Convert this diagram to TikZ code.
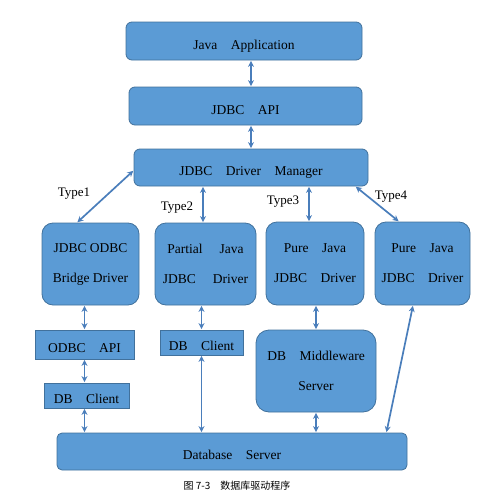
\documentclass[tikz,border=0pt]{standalone}
\usepackage{fontspec}
\setmainfont{Liberation Serif}
\newfontfamily\cjkfont{Noto Sans CJK SC}
\usepackage{tikz}
\usetikzlibrary{arrows.meta,positioning}
\definecolor{boxfill}{HTML}{5B9BD5}
\definecolor{boxline}{HTML}{41719C}
\definecolor{arrowblue}{HTML}{4A7EBB}
\tikzset{
    layer/.style={draw=boxline, fill=boxfill, line width=0.8pt, rounded corners=6pt,
        inner sep=0pt, text height=16pt, text depth=0pt,
        font=\fontsize{13.5}{16}\selectfont},
    drvbox/.style={layer, rounded corners=11pt, align=center,
        text height=, text depth=, font=\fontsize{13.5}{30}\selectfont},
    flatbox/.style={layer, rounded corners=0pt},
    tag/.style={inner sep=0pt, font=\fontsize{13}{15}\selectfont},
    link/.style={{Stealth[length=6pt,width=6pt]}-{Stealth[length=6pt,width=6pt]},
        draw=arrowblue, line width=1.7pt, shorten <=0.5pt, shorten >=0.5pt}
}

\begin{document}
\begin{tikzpicture}[x=1pt, y=-1pt]
\useasboundingbox (0,0) rectangle (488,498);

\node[layer, minimum width=236pt, minimum height=38pt] (app) at (244,41) {Java\quad Application};
\node[layer, minimum width=233pt, minimum height=38pt] (api) at (245.5,106) {JDBC\quad API};
\node[layer, minimum width=234pt, minimum height=37pt] (ddm) at (251,167.5) {JDBC\quad Driver\quad Manager};

\node[drvbox, minimum width=97pt, minimum height=82pt] (bridge) at (90.5,264) {JDBC ODBC\\Bridge Driver};
\node[drvbox, minimum width=101pt, minimum height=82pt] (partial) at (205.5,264) {Partial\quad\ Java\\JDBC\quad\ Driver};
\node[drvbox, minimum width=98pt, minimum height=83pt] (purenet) at (315,263.5) {Pure\quad Java\\JDBC\quad Driver};
\node[drvbox, minimum width=95pt, minimum height=83pt] (purenat) at (422.5,263.5) {Pure\quad Java\\JDBC\quad Driver};

\node[flatbox, minimum width=99pt, minimum height=29pt] (odbc) at (84.5,344.5) {ODBC\quad API};
\node[flatbox, minimum width=85pt, minimum height=25pt] (clientA) at (86.5,395.5) {DB\quad Client};
\node[flatbox, minimum width=83pt, minimum height=25pt] (clientB) at (201.5,342.5) {DB\quad Client};
\node[drvbox, rounded corners=13pt, minimum width=120pt, minimum height=82pt] (mware) at (316,371) {DB\quad Middleware\\Server};
\node[layer, rounded corners=5pt, minimum width=350pt, minimum height=37pt] (dbsrv) at (232,451.5) {Database\quad Server};

\node[tag] (t1) at (74,194) {Type1};
\node[tag] (t2) at (177,208) {Type2};
\node[tag] (t3) at (283,202) {Type3};
\node[tag] (t4) at (391,197) {Type4};

\node[inner sep=0pt, font=\cjkfont\fontsize{10}{12}\selectfont] (cap) at (237,486) {图 7-3\quad 数据库驱动程序};

% upper stack
\draw[link] (app.south -| ddm.north) -- (api.north -| ddm.north);
\draw[link] (api.south -| ddm.north) -- (ddm.north);
% four driver types
\draw[link] ([xshift=-13.5pt]bridge.north) -- ([yshift=-3pt]ddm.west);
\draw[link] ([xshift=-2.5pt]partial.north |- ddm.south) -- ([xshift=-2.5pt]partial.north);
\draw[link] ([xshift=-6pt]purenet.north |- ddm.south) -- ([xshift=-6pt]purenet.north);
\draw[link] ([xshift=-13pt]ddm.south east) -- ([xshift=-23.5pt]purenat.north);
% down to the database
\draw[link] (odbc.north |- bridge.south) -- (odbc.north);
\draw[link] (odbc.south) -- (odbc.south |- clientA.north);
\draw[link] (odbc.south |- clientA.south) -- (odbc.south |- dbsrv.north);
\draw[link] (clientB.north |- partial.south) -- (clientB.north);
\draw[link] (clientB.south) -- (clientB.south |- dbsrv.north);
\draw[link] (mware.north |- purenet.south) -- (mware.north);
\draw[link] (mware.south) -- (mware.south |- dbsrv.north);
\draw[link] ([xshift=-9.5pt]purenat.south) -- ([xshift=-21pt]dbsrv.north east);
\end{tikzpicture}
\end{document}
